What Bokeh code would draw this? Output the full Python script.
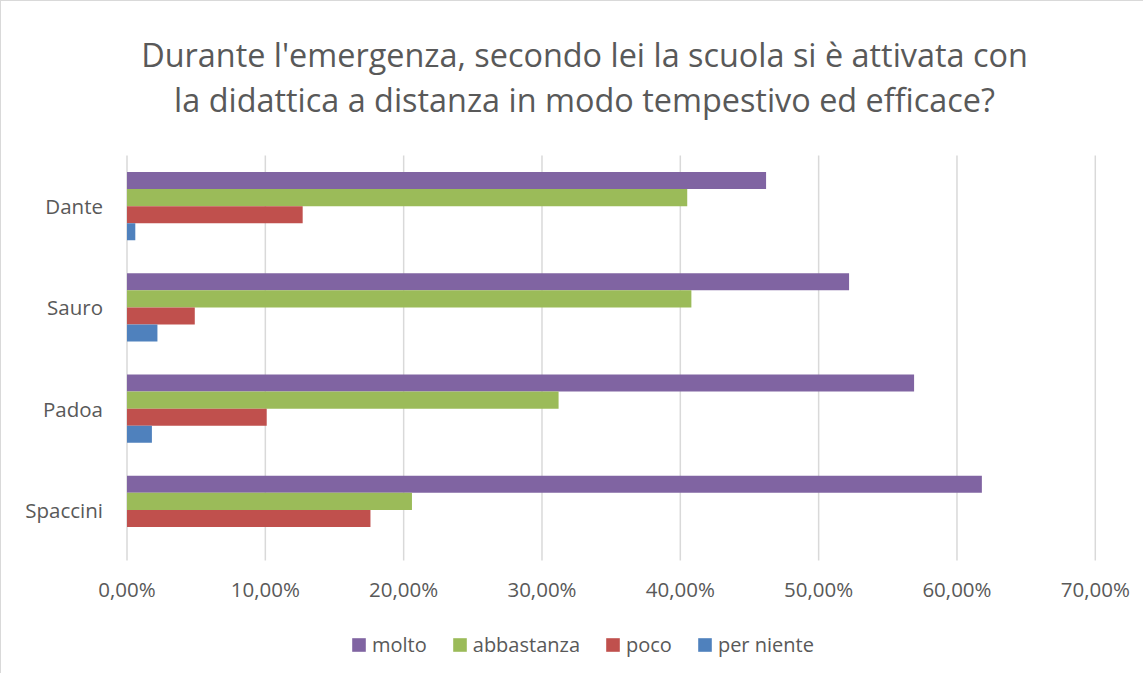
from bokeh.plotting import figure
from bokeh.models import (Range1d, FixedTicker, Legend, LegendItem, Label,
                          ColumnDataSource, CustomJSTickFormatter)
from bokeh.embed import file_html
from bokeh.resources import INLINE

# ---- data ----
categories = ["Dante", "Sauro", "Padoa", "Spaccini"]
series_names = ["molto", "abbastanza", "poco", "per niente"]
molto = [0.462, 0.522, 0.569, 0.618]
abbastanza = [0.405, 0.408, 0.312, 0.206]
poco = [0.127, 0.049, 0.101, 0.176]
per_niente = [0.006, 0.022, 0.018, 0.0]
tick_values = [0.0, 0.1, 0.2, 0.3, 0.4, 0.5, 0.6, 0.7]
tick_labels = ["0,00%", "10,00%", "20,00%", "30,00%", "40,00%", "50,00%", "60,00%", "70,00%"]
title_lines = ["Durante l'emergenza, secondo lei la scuola si è attivata con",
               "la didattica a distanza in modo tempestivo ed efficace?"]

# ---- style / layout constants ----
colors = ["#8064a2", "#9bbb59", "#c0504d", "#4f81bd"]
offsets = [0.252, 0.084, -0.084, -0.252]
BAR_H = 0.168
FONT = "Open Sans"
TXT = "#595959"
GRID = "#d9d9d9"
W, H = 1143, 673
# pixel layout (canvas coords): zero line, 70% line, category block top/bottom
X0_PX, X70_PX = 125.5, 1093.8
TOP_PX, BOT_PX = 154.0, 559.0

n = len(categories)
kx = (X70_PX - X0_PX) / tick_values[-1]
ky = (BOT_PX - TOP_PX) / n
x_start = -X0_PX / kx
x_end = x_start + W / kx
y_end = n + TOP_PX / ky
y_start = y_end - H / ky

def px_to_x(px):
    return x_start + px / kx

def px_to_y(py):
    return y_end - py / ky

positions = [n - 1 - i + 0.5 for i in range(n)]

src = dict(pos=positions, molto=molto, abbastanza=abbastanza, poco=poco, per_niente=per_niente)
fields = ["molto", "abbastanza", "poco", "per_niente"]
for f, off in zip(fields, offsets):
    src["y_" + f] = [pv + off for pv in positions]
source = ColumnDataSource(src)

p = figure(width=W, height=H, x_range=Range1d(x_start, x_end), y_range=Range1d(y_start, y_end),
           output_backend="svg", toolbar_location=None, title_location=None,
           min_border=0, min_border_left=0, min_border_right=0, min_border_top=0, min_border_bottom=0)
p.styles = {"border-left": "1px solid #d9d9d9", "border-top": "1px solid #d9d9d9"}
p.outline_line_color = None
p.xgrid.visible = False
p.ygrid.visible = False

# vertical gridlines from the tick values, spanning the category block
p.segment(x0=tick_values, x1=tick_values, y0=[0] * len(tick_values), y1=[n] * len(tick_values),
          line_color=GRID, line_width=1.5)

renderers = []
for f, c in zip(fields, colors):
    r = p.hbar(y="y_" + f, left=0, right=f, height=BAR_H, source=source,
               fill_color=c, line_color=None)
    renderers.append(r)

xa = p.xaxis[0]
ya = p.yaxis[0]
xa.fixed_location = 0
ya.fixed_location = 0
xa.ticker = FixedTicker(ticks=tick_values)
xa.formatter = CustomJSTickFormatter(args=dict(tvals=tick_values, tlabs=tick_labels), code="""
let best = 0; let d = Infinity;
for (let i = 0; i < tvals.length; i++) { const dd = Math.abs(tvals[i] - tick); if (dd < d) { d = dd; best = i; } }
return tlabs[best];
""")
ya.ticker = FixedTicker(ticks=positions)
ya.formatter = CustomJSTickFormatter(args=dict(tvals=positions, tlabs=categories), code="""
let best = 0; let d = Infinity;
for (let i = 0; i < tvals.length; i++) { const dd = Math.abs(tvals[i] - tick); if (dd < d) { d = dd; best = i; } }
return tlabs[best];
""")
for ax in (xa, ya):
    ax.axis_line_color = None
    ax.major_tick_line_color = None
    ax.minor_tick_line_color = None
    ax.major_tick_out = 0
    ax.major_tick_in = 0
    ax.major_label_text_font = FONT
    ax.major_label_text_font_size = "20.5px"
    ax.major_label_text_color = TXT
xa.major_label_standoff = 14
ya.major_label_standoff = 24

# two-line title
for txt, base_px in zip(title_lines, [52.0, 97.0]):
    p.add_layout(Label(x=px_to_x(583.0), y=px_to_y(base_px), text=txt, text_align="center",
                       text_baseline="alphabetic", text_font=FONT, text_font_size="32.4px",
                       text_color=TXT))

legend = Legend(items=[LegendItem(label=nm, renderers=[r]) for nm, r in zip(series_names, renderers)],
                orientation="horizontal", location=(349, 16), glyph_width=17, glyph_height=17,
                label_text_font=FONT, label_text_font_size="20px", label_text_color=TXT,
                spacing=24, padding=0, margin=0, border_line_color=None, background_fill_alpha=0,
                label_standoff=5, label_height=20)
p.add_layout(legend, "center")

open("out.html", "w").write(file_html(p, INLINE))
